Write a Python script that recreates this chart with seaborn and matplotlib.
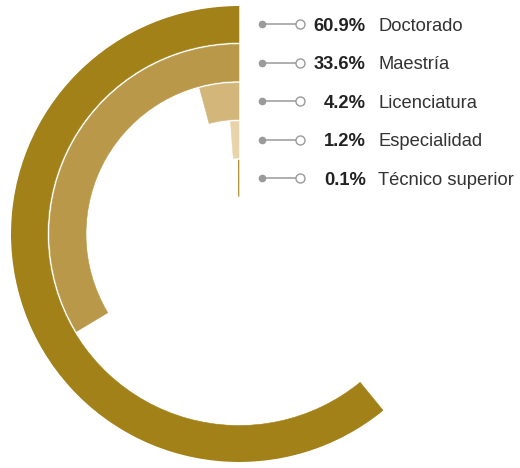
import numpy as np
import matplotlib.pyplot as plt
import seaborn as sns

levels = ["Doctorado", "Maestría", "Licenciatura", "Especialidad", "Técnico superior"]
shares = [60.9, 33.6, 4.2, 1.2, 0.1]
ring_colors = ["#A38119", "#B99849", "#D3B67A", "#E8D4AA", "#A8891F"]

sns.set_style("white")
plt.rcParams["font.family"] = ["Liberation Sans", "DejaVu Sans"]

W, H = 520, 468
fig = plt.figure(figsize=(W / 100, H / 100), dpi=100)

# ring geometry (pixels)
cx, cy, r_out = 239, 234, 228
thick, pitch = 36.5, 38.5

ax = fig.add_axes([(cx - r_out) / W, (H - cy - r_out) / H, 2 * r_out / W, 2 * r_out / H],
                  projection="polar")
ax.set_theta_zero_location("N")
ax.set_theta_direction(1)
ax.set_ylim(0, r_out)
ax.set_axis_off()

n = len(shares)
bottoms = [r_out - thick - i * pitch for i in range(n)]
theta = [s / 100 * 2 * np.pi for s in shares]
ax.bar([0] * n, [thick] * n, width=theta, bottom=bottoms, align="edge",
       color=ring_colors, edgecolor=ring_colors, linewidth=0.4)

# legend rows next to the rings
lax = fig.add_axes([0, 0, 1, 1])
lax.set_xlim(0, W)
lax.set_ylim(H, 0)
lax.set_axis_off()
for b, lab, val in zip(bottoms, levels, shares):
    y = cy - (b + thick / 2)
    lax.plot([262, 300], [y, y], color="#9a9a9a", lw=1.1)
    lax.plot(262, y, "o", ms=4.5, color="#9a9a9a")
    lax.plot(300, y, "o", ms=6.5, mfc="white", mec="#9a9a9a", mew=1)
    lax.text(366, y, f"{val:.1f}%", ha="right", va="center_baseline",
             fontsize=13.2, fontweight="bold", color="#222222")
    lax.text(378, y, lab, ha="left", va="center_baseline", fontsize=13.2, color="#333333")

fig.savefig("out.png", dpi=100)
